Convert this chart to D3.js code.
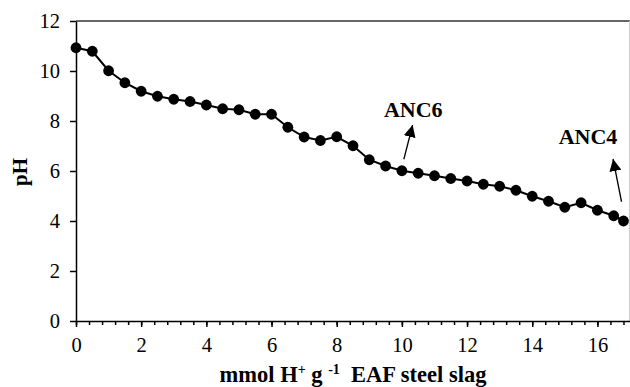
<!DOCTYPE html>
<html>
<head>
<meta charset="utf-8">
<script src="https://cdn.jsdelivr.net/npm/d3@7"></script>
<style>
  html, body { margin: 0; padding: 0; background: #fff; }
  svg { display: block; }
  svg text { fill: #000; }
</style>
</head>
<body>
<svg id="chart" width="630" height="387"></svg>
<script>
// ---- data ----
const acidAdded = [0, 0.5, 1, 1.5, 2, 2.5, 3, 3.5, 4, 4.5, 5, 5.5, 6, 6.5, 7, 7.5, 8, 8.5,
                   9, 9.5, 10, 10.5, 11, 11.5, 12, 12.5, 13, 13.5, 14, 14.5, 15, 15.5, 16, 16.5, 16.8];
const pHValues  = [10.93, 10.79, 10.01, 9.53, 9.19, 8.99, 8.87, 8.78, 8.64, 8.49, 8.45, 8.27, 8.27, 7.75, 7.36, 7.22, 7.37, 7.01,
                   6.45, 6.2, 6.01, 5.91, 5.81, 5.7, 5.6, 5.47, 5.39, 5.23, 4.99, 4.79, 4.55, 4.73, 4.43, 4.21, 4.0];
const xMajorTicks = [0, 2, 4, 6, 8, 10, 12, 14, 16];
const xMinorTicks = d3.range(0, 85).map(i => +(i * 0.4).toFixed(1)).filter(v => v <= 16.85);
const yTicks = [0, 2, 4, 6, 8, 10, 12];
const annotLabels = ["ANC6", "ANC4"];
const annotTextPos = [[10.35, 8.18], [15.71, 7.08]];   // data coords (text centre, baseline)
const annotArrowFrom = [[10.06, 6.47], [16.74, 4.77]];
const annotArrowTo   = [[10.33, 7.84], [16.48, 6.48]];

// ---- layout ----
const svg = d3.select("#chart");
const pLeft = 76, pRight = 630, pTop = 21, pBottom = 321;
const x = d3.scaleLinear().domain([0, 17]).range([pLeft, pRight]);
const y = d3.scaleLinear().domain([0, 12]).range([pBottom, pTop]);
const serif = '"Liberation Serif", "Times New Roman", Times, "DejaVu Serif", serif';

// frame (top and right)
svg.append("line").attr("x1", pLeft).attr("x2", pRight).attr("y1", pTop).attr("y2", pTop)
  .attr("stroke", "#333").attr("stroke-width", 1.5);
svg.append("line").attr("x1", pRight - 0.5).attr("x2", pRight - 0.5).attr("y1", pTop).attr("y2", pBottom)
  .attr("stroke", "#ccc").attr("stroke-width", 1);

// y axis
const yAxis = d3.axisLeft(y).tickValues(yTicks).tickSize(6).tickPadding(10).tickSizeOuter(0).tickFormat(d3.format("d"));
const gy = svg.append("g").attr("transform", `translate(${pLeft},0)`).call(yAxis)
  .attr("font-family", serif).attr("font-size", 20.5);
gy.select(".domain").attr("stroke", "#000").attr("stroke-width", 1.5);
gy.selectAll(".tick line").attr("stroke", "#000").attr("stroke-width", 1.5);
gy.selectAll(".tick text").attr("fill", "#000");

// x axis minor ticks
const gxm = svg.append("g").attr("transform", `translate(0,${pBottom})`)
  .call(d3.axisBottom(x).tickValues(xMinorTicks).tickSize(4).tickFormat(""));
gxm.select(".domain").remove();
gxm.selectAll(".tick line").attr("stroke", "#000").attr("stroke-width", 1.5);

// x axis major
const gx = svg.append("g").attr("transform", `translate(0,${pBottom})`)
  .call(d3.axisBottom(x).tickValues(xMajorTicks).tickSize(6).tickPadding(10).tickSizeOuter(0).tickFormat(d3.format("d")))
  .attr("font-family", serif).attr("font-size", 20.5);
gx.select(".domain").attr("stroke", "#000").attr("stroke-width", 1.5);
gx.selectAll(".tick line").attr("stroke", "#000").attr("stroke-width", 1.5);
gx.selectAll(".tick text").attr("fill", "#000");

// axis titles
svg.append("text").attr("transform", `translate(27,${(pTop + pBottom) / 2 + 1}) rotate(-90)`)
  .attr("font-family", serif)
  .attr("text-anchor", "middle").attr("font-size", 21).attr("font-weight", "bold").text("pH");

const xt = svg.append("text").attr("x", 353).attr("y", 382)
  .attr("font-family", serif)
  .attr("text-anchor", "middle").attr("font-size", 22.5).attr("font-weight", "bold");
xt.append("tspan").text("mmol H");
xt.append("tspan").attr("font-size", 14).attr("dy", -8).text("+");
xt.append("tspan").attr("dy", 8).text(" g ");
xt.append("tspan").attr("font-size", 14).attr("dy", -8).text("-1");
xt.append("tspan").attr("dy", 8).text("\u00a0 EAF steel slag");

// line + markers
const pts = acidAdded.map((d, i) => [d, pHValues[i]]);
svg.append("path").datum(pts)
  .attr("fill", "none").attr("stroke", "#000").attr("stroke-width", 2)
  .attr("d", d3.line().x(d => x(d[0])).y(d => y(d[1])));
svg.selectAll("circle.pt").data(pts).enter().append("circle").attr("class", "pt")
  .attr("cx", d => x(d[0])).attr("cy", d => y(d[1])).attr("r", 5.4).attr("fill", "#000");

// annotations
svg.append("defs").append("marker").attr("id", "arrow")
  .attr("viewBox", "0 0 10 10").attr("refX", 10).attr("refY", 5)
  .attr("markerWidth", 12).attr("markerHeight", 12).attr("markerUnits", "userSpaceOnUse")
  .attr("orient", "auto")
  .append("path").attr("d", "M0,0 L10,5 L0,10 z").attr("fill", "#000");

annotLabels.forEach((lab, i) => {
  svg.append("text").attr("x", x(annotTextPos[i][0])).attr("y", y(annotTextPos[i][1]))
    .attr("font-family", serif)
    .attr("text-anchor", "middle").attr("font-size", 22).attr("font-weight", "bold").text(lab);
  svg.append("line")
    .attr("x1", x(annotArrowFrom[i][0])).attr("y1", y(annotArrowFrom[i][1]))
    .attr("x2", x(annotArrowTo[i][0])).attr("y2", y(annotArrowTo[i][1]))
    .attr("stroke", "#000").attr("stroke-width", 1.3).attr("marker-end", "url(#arrow)");
});
</script>
</body>
</html>
